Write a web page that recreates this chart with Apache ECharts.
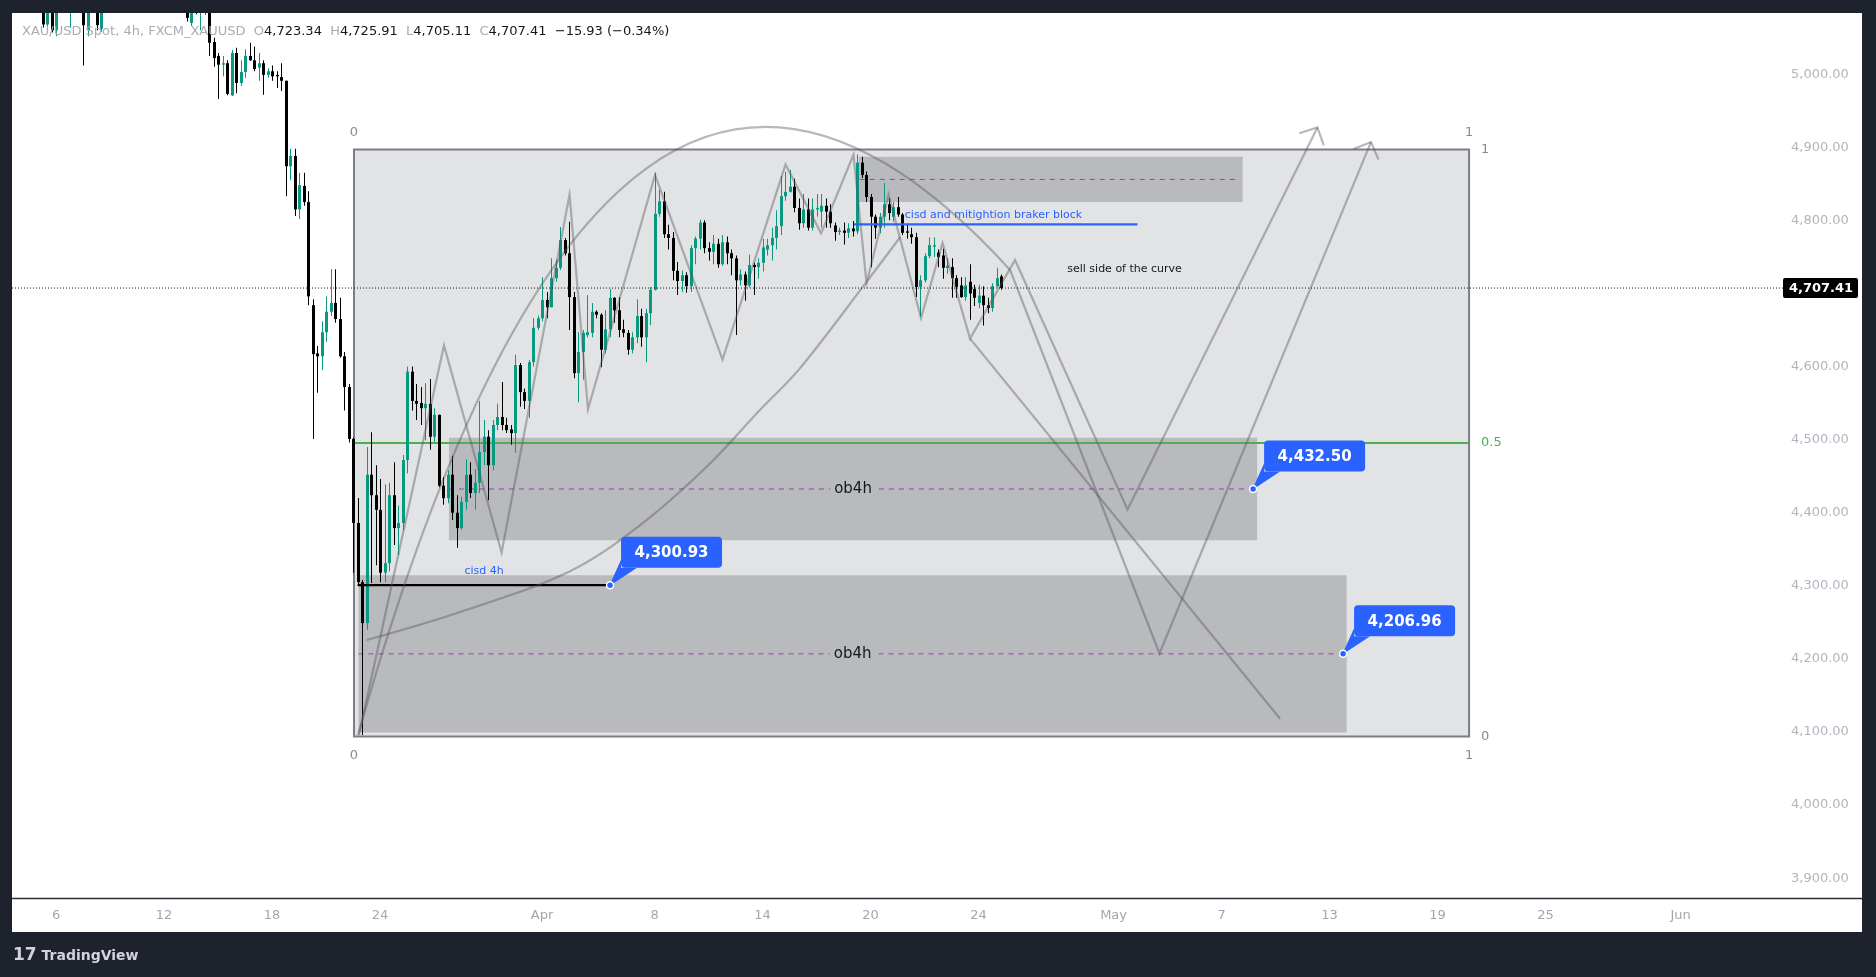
<!DOCTYPE html>
<html><head><meta charset="utf-8">
<script src="https://cdn.jsdelivr.net/npm/echarts@6/dist/echarts.min.js"></script>
<style>html,body{margin:0;padding:0;background:#1e222d;overflow:hidden}#c{width:1876px;height:977px}</style>
</head><body><div id="c"></div>
<script>
// ================= DATA =================
// 4h candles of XAU/USD, one row per bar: [open, close, low, high]
const ohlc = [
[5135,5120,5110,5148],[5120,5142,5112,5150],[5142,5128,5118,5152],[5128,5110,5098,5135],[5110,5125,5100,5132],
[5125,5098,5090,5130],[5095,5068,5064,5102],[5068,5088,5066,5096],[5088,5060,5057,5094],[5060,5095,5052,5102],
[5095,5110,5090,5118],[5110,5102,5092,5122],[5102,5115,5064,5120],[5115,5128,5105,5135],[5128,5112,5100,5138],
[5112,5067,5012,5118],[5060,5098,5052,5105],[5098,5115,5092,5122],[5115,5067,5060,5120],[5062,5105,5058,5112],
[5105,5130,5098,5138],[5130,5150,5122,5160],[5150,5142,5132,5168],[5142,5165,5136,5172],[5165,5180,5155,5190],
[5180,5170,5158,5195],[5170,5188,5162,5198],[5188,5176,5165,5196],[5176,5160,5148,5185],[5160,5172,5150,5180],
[5172,5150,5140,5178],[5150,5138,5126,5158],[5138,5150,5130,5160],[5150,5132,5118,5156],[5132,5140,5120,5148],
[5140,5124,5110,5146],[5124,5118,5104,5130],[5118,5105,5095,5125],[5105,5077,5072,5115],[5070,5095,5066,5105],
[5095,5088,5082,5108],[5088,5100,5060,5108],[5092,5106,5081,5115],[5104,5043,5025,5108],[5044,5022,5010,5050],
[5025,5013,4966,5029],[5013,5015,4997,5025],[5015,4973,4971,5019],[4971,5029,4970,5033],[5029,4988,4974,5036],
[4988,5003,4984,5019],[5003,5025,4995,5034],[5025,5019,5018,5043],[5019,5007,5004,5038],[5009,5015,4991,5029],
[5015,4999,4972,5019],[4999,5004,4995,5008],[5004,4997,4991,5012],[4999,4997,4981,5004],[4996,4991,4977,5015],
[4991,4874,4833,4991],[4874,4888,4855,4898],[4888,4815,4806,4898],[4815,4848,4802,4865],[4847,4825,4820,4865],
[4825,4696,4684,4840],[4684,4617,4501,4692],[4618,4614,4564,4628],[4614,4647,4595,4662],[4647,4675,4634,4696],
[4675,4687,4669,4733],[4687,4665,4660,4733],[4665,4614,4612,4694],[4614,4572,4540,4620],[4572,4501,4496,4576],
[4501,4386,4318,4503],[4386,4305,4302,4420],[4305,4249,4096,4308],[4249,4452,4240,4490],[4452,4424,4304,4510],
[4424,4404,4328,4465],[4404,4318,4305,4446],[4318,4331,4305,4439],[4331,4424,4320,4441],[4424,4379,4356,4469],
[4379,4386,4342,4410],[4386,4472,4376,4479],[4472,4593,4454,4600],[4593,4553,4540,4600],[4553,4549,4527,4576],
[4550,4543,4520,4572],[4543,4549,4499,4577],[4549,4504,4486,4583],[4504,4534,4497,4543],[4534,4437,4435,4534],
[4437,4420,4411,4449],[4420,4452,4413,4458],[4452,4400,4390,4478],[4400,4379,4352,4424],[4379,4415,4377,4422],
[4415,4452,4404,4473],[4452,4427,4420,4469],[4427,4441,4404,4460],[4441,4483,4427,4553],[4483,4504,4465,4527],
[4504,4465,4417,4513],[4465,4520,4458,4527],[4520,4531,4513,4549],[4531,4520,4513,4579],[4520,4513,4509,4530],
[4514,4509,4493,4520],[4509,4602,4482,4616],[4602,4565,4545,4605],[4565,4553,4542,4570],[4553,4606,4530,4609],
[4606,4653,4600,4666],[4653,4666,4650,4670],[4666,4691,4662,4722],[4691,4681,4666,4702],[4681,4721,4681,4748],
[4721,4735,4716,4746],[4735,4773,4732,4791],[4773,4755,4752,4776],[4755,4695,4650,4798],[4695,4591,4584,4702],
[4591,4620,4551,4647],[4620,4646,4582,4650],[4643,4647,4640,4698],[4646,4675,4640,4687],[4675,4671,4666,4677],
[4671,4623,4599,4673],[4623,4651,4618,4677],[4651,4694,4640,4706],[4694,4677,4660,4695],[4677,4650,4640,4695],
[4651,4646,4640,4664],[4646,4623,4616,4650],[4623,4640,4618,4647],[4640,4669,4632,4692],[4669,4640,4627,4679],
[4640,4673,4606,4679],[4673,4705,4657,4709],[4705,4809,4704,4865],[4809,4826,4805,4842],[4826,4781,4776,4839],
[4781,4776,4760,4794],[4776,4731,4718,4784],[4731,4717,4698,4743],[4717,4725,4702,4731],[4725,4710,4701,4729],
[4710,4762,4702,4766],[4762,4775,4740,4778],[4775,4797,4760,4801],[4797,4762,4755,4800],[4762,4757,4745,4770],
[4757,4768,4740,4780],[4768,4740,4735,4775],[4740,4770,4738,4780],[4770,4755,4740,4778],[4755,4748,4725,4760],
[4748,4718,4643,4752],[4718,4726,4711,4733],[4726,4711,4690,4730],[4711,4739,4708,4753],[4739,4736,4698,4742],
[4736,4742,4720,4748],[4742,4763,4730,4775],[4760,4766,4752,4775],[4766,4776,4745,4790],[4776,4792,4760,4814],
[4792,4833,4780,4861],[4833,4839,4827,4866],[4839,4846,4838,4869],[4846,4817,4811,4857],[4817,4796,4787,4830],
[4796,4815,4790,4836],[4815,4790,4786,4830],[4790,4815,4786,4830],[4815,4817,4805,4836],[4812,4820,4790,4836],
[4820,4812,4790,4830],[4812,4796,4790,4822],[4793,4784,4772,4797],[4784,4786,4780,4790],[4786,4783,4767,4797],
[4783,4789,4776,4796],[4789,4785,4778,4799],[4785,4879,4781,4890],[4879,4862,4858,4887],[4862,4832,4825,4867],
[4832,4805,4736,4836],[4805,4790,4775,4808],[4790,4805,4782,4810],[4805,4822,4790,4851],[4822,4810,4800,4830],
[4805,4818,4798,4825],[4818,4808,4805,4832],[4808,4783,4780,4810],[4785,4783,4775,4795],[4781,4777,4768,4790],
[4777,4709,4695,4783],[4709,4718,4668,4725],[4718,4751,4715,4755],[4751,4766,4748,4777],[4764,4766,4750,4777],
[4756,4750,4736,4760],[4752,4735,4720,4761],[4735,4738,4727,4748],[4736,4721,4694,4748],[4721,4709,4694,4725],
[4711,4695,4694,4722],[4695,4711,4690,4722],[4716,4700,4664,4740],[4706,4694,4683,4712],[4687,4697,4680,4712],
[4697,4684,4656,4710],[4684,4680,4673,4694],[4680,4710,4675,4714],[4710,4721,4708,4735],[4723.34,4707.41,4705.11,4725.91]
];
// time axis: bar index of each date label
const timeTickBars = [9,33,57,81,117,142,166,190,214,244,268,292,316,340,370];
const timeTickLabels = ['6','12','18','24','Apr','8','14','20','24','May','7','13','19','25','Jun'];
const priceTicks = [3900,4000,4100,4200,4300,4400,4500,4600,4800,4900,5000];
const lastPrice = 4707.41;
const legendSymbol = 'XAU/USD Spot, 4h, FXCM_XAUUSD';
const legendValues = ['4,723.34','4,725.91','4,705.11','4,707.41','\u221215.93 (\u22120.34%)'];

// drawings (bar index, price)
const gannBox = [[75.2, 323.0, 4897, 4094]];            // x1, x2, top, bottom
const gannLevels = [1, 0.5, 0];
const zones = [[96.3,275.9,4502.5,4362.5],[76.2,295.8,4314.5,4099.4],[187.4,272.7,4887,4825.2]];
const zoneMidlines = [[96.3,275.0,4432.5],[76.2,295.0,4206.96],[187.6,271.4,4856]];
const zoneLabels = [[186.1,4432.5,'ob4h'],[186.0,4206.96,'ob4h']];
const priceNotes = [[132.1,4300.93],[275.0,4432.50],[295.0,4206.96]];
const levelLines = [[76.0,132.1,4300.93],[186.3,249.3,4794.4]];
const textNotes = [[104.1,4320.3,'cisd 4h'],[197.6,4807.3,'cisd and mitightion braker block'],[233.7,4733.5,'sell side of the curve']];
const zigzagPath = [[76.3,4096],[95.2,4628.9],[108.0,4345.7],[123.1,4835.1],[127.2,4541.5],[142.1,4862.2],[157.1,4609.4],
  [171.1,4876.6],[179.0,4782.2],[186.2,4889.8],[189.1,4714.1],[194.0,4835.1],[201.2,4666.4],[206.0,4768.9],[212.1,4638.2],
  [222.1,4745.8],[247.1,4404.4],[289.3,4927.2]];
// curve drawing (quadratic): start, control, end
const curveAnchors = [[76.1,4095.9],[132.5,5331.2],[221.0,4732.1]];
const lowerCurve = [[78.0,4225.8],[98.8,4264.2],[123.1,4319.7],[138.8,4383.2],[153.7,4463.6],[165.4,4540.5],[174.1,4596.1],
  [188.9,4714.2],[196.6,4777.2]];
const rayDown = [[212.1,4638.2],[281.0,4118.2]];
const curveExitPath = [[221.0,4732.1],[254.2,4207.4],[301.2,4907.1]];

// ================= STYLE =================
const FONT = '"DejaVu Sans", Verdana, sans-serif';
const UP = '#089981', DOWN = '#000000';
const paths = [
  {pts: lowerCurve, smooth: 0.35, arrow: false},
  {pts: zigzagPath, smooth: 0, arrow: true},
  {pts: rayDown, smooth: 0, arrow: false},
  {pts: curveExitPath, smooth: 0, arrow: true}
];
const DRAW_STROKE = 'rgba(85,86,92,0.42)';
const levelLineColors = ['#000000', '#2962ff'];
const textNoteStyles = [
  {fill:'#2962ff', font:'11px ' + FONT, align:'center'},
  {fill:'#2962ff', font:'11px ' + FONT, align:'left'},
  {fill:'#131722', font:'11px ' + FONT, align:'left'}
];
const fmt = v => v.toLocaleString('en-US', {minimumFractionDigits:2, maximumFractionDigits:2});

const X_MIN = -0.8, X_MAX = 392.76, Y_MIN = 3872.9, Y_MAX = 5083.7;

const chart = echarts.init(document.getElementById('c'), null, {renderer:'canvas', width:1876, height:977});

function renderCandle(params, api) {
  const i = api.value(0), o = api.value(1), c = api.value(2), l = api.value(3), h = api.value(4);
  const pO = api.coord([i, o]), pC = api.coord([i, c]), pL = api.coord([i, l]), pH = api.coord([i, h]);
  const x = Math.round(pO[0]);
  const col = c >= o ? UP : DOWN;
  const top = Math.min(pO[1], pC[1]);
  const hh = Math.max(1, Math.abs(pO[1] - pC[1]));
  return {type:'group', children:[
    {type:'rect', shape:{x:x, y:pH[1], width:1, height:Math.max(1, pL[1]-pH[1])}, style:{fill:col}},
    {type:'rect', shape:{x:x-1, y:top, width:3, height:hh}, style:{fill:col}}
  ]};
}

function renderGann(params, api) {
  const x1 = api.value(0), x2 = api.value(1), top = api.value(2), bot = api.value(3);
  const a = api.coord([x1, top]), b = api.coord([x2, bot]);
  const labelFont = '13px ' + FONT, gray = '#878a93';
  const ch = [
    {type:'rect', shape:{x:a[0], y:a[1], width:b[0]-a[0], height:b[1]-a[1]}, style:{fill:'#e2e3e5'}}
  ];
  gannLevels.forEach(r => {
    const y = api.coord([x1, bot + r*(top-bot)])[1];
    const green = r === 0.5;
    ch.push({type:'text', x:b[0]+12, y:y, style:{text:String(r), fill: green ? '#4caf50' : gray, font:labelFont, align:'left', verticalAlign:'middle'}});
  });
  ch.push({type:'text', x:a[0], y:a[1]-17, style:{text:'0', fill:gray, font:labelFont, align:'center', verticalAlign:'middle'}});
  ch.push({type:'text', x:b[0], y:a[1]-17, style:{text:'1', fill:gray, font:labelFont, align:'center', verticalAlign:'middle'}});
  ch.push({type:'text', x:a[0], y:b[1]+19, style:{text:'0', fill:gray, font:labelFont, align:'center', verticalAlign:'middle'}});
  ch.push({type:'text', x:b[0], y:b[1]+19, style:{text:'1', fill:gray, font:labelFont, align:'center', verticalAlign:'middle'}});
  return {type:'group', children:ch};
}
function renderGannBorder(params, api) {
  const a = api.coord([api.value(0), api.value(2)]), b = api.coord([api.value(1), api.value(3)]);
  return {type:'rect', shape:{x:a[0], y:a[1], width:b[0]-a[0], height:b[1]-a[1]}, style:{fill:null, stroke:'#7b7e87', lineWidth:2}};
}
function renderGannMid(params, api) {
  const x1 = api.value(0), x2 = api.value(1), top = api.value(2), bot = api.value(3);
  const y = api.coord([x1, (top+bot)/2])[1];
  const a = api.coord([x1, top]), b = api.coord([x2, bot]);
  return {type:'line', shape:{x1:a[0], y1:y, x2:b[0], y2:y}, style:{stroke:'#4caf50', lineWidth:2}};
}
function renderZone(params, api) {
  const a = api.coord([api.value(0), api.value(2)]), b = api.coord([api.value(1), api.value(3)]);
  return {type:'rect', shape:{x:a[0], y:a[1], width:b[0]-a[0], height:b[1]-a[1]}, style:{fill:'#b9babd'}};
}
function renderZoneMid(params, api) {
  const a = api.coord([api.value(0), api.value(2)]), b = api.coord([api.value(1), api.value(2)]);
  return {type:'line', shape:{x1:a[0], y1:a[1], x2:b[0], y2:b[1]}, style:{stroke:'#9c27b0', lineWidth:1, lineDash:[5,5], opacity:0.85}};
}
function renderZoneLabel(params, api) {
  const p = api.coord([api.value(0), api.value(1)]);
  return {type:'text', x:p[0], y:p[1], style:{text:zoneLabels[params.dataIndex][2], fill:'#131722', font:'15px ' + FONT,
    align:'center', verticalAlign:'middle', backgroundColor:'#b9babd', padding:[1,4]}};
}
function renderLevelLine(params, api) {
  const a = api.coord([api.value(0), api.value(2)]), b = api.coord([api.value(1), api.value(2)]);
  return {type:'line', shape:{x1:a[0], y1:a[1], x2:b[0], y2:b[1]}, style:{stroke:levelLineColors[params.dataIndex], lineWidth:2.2}};
}
function arrowHead(t, s) {
  const dx = s[0]-t[0], dy = s[1]-t[1], L = Math.hypot(dx, dy);
  const ux = dx/L, uy = dy/L, len = 19, ang = 0.8;
  const r = (x, y, g) => [x*Math.cos(g) - y*Math.sin(g), x*Math.sin(g) + y*Math.cos(g)];
  const b1 = r(ux, uy, ang), b2 = r(ux, uy, -ang);
  return {type:'polyline', shape:{points:[[t[0]+b1[0]*len, t[1]+b1[1]*len], t, [t[0]+b2[0]*len, t[1]+b2[1]*len]]},
    style:{stroke:DRAW_STROKE, lineWidth:2.2, fill:null}};
}
function renderPath(params, api) {
  const p = paths[params.dataIndex];
  const pts = p.pts.map(q => api.coord(q));
  const ch = [{type:'polyline', shape:{points:pts, smooth:p.smooth}, style:{stroke:DRAW_STROKE, lineWidth:2.2, fill:null}}];
  if (p.arrow) ch.push(arrowHead(pts[pts.length-1], pts[pts.length-2]));
  return {type:'group', children:ch};
}
function renderCurve(params, api) {
  const s = api.coord(curveAnchors[0]), c = api.coord(curveAnchors[1]), e = api.coord(curveAnchors[2]);
  return {type:'bezierCurve', shape:{x1:s[0], y1:s[1], cpx1:c[0], cpy1:c[1], x2:e[0], y2:e[1]},
    style:{stroke:DRAW_STROKE, lineWidth:2.2, fill:null}};
}
function renderTextNote(params, api) {
  const p = api.coord([api.value(0), api.value(1)]);
  const st = textNoteStyles[params.dataIndex];
  return {type:'text', x:p[0], y:p[1], style:{text:textNotes[params.dataIndex][2], fill:st.fill, font:st.font, align:st.align, verticalAlign:'middle'}};
}
function renderPriceNote(params, api) {
  const v = api.value(1);
  const a = api.coord([api.value(0), v]);
  const w = 101, h = 31, bx = a[0] + 11, by = a[1] - 17.5 - h;
  return {type:'group', children:[
    {type:'polygon', shape:{points:[[a[0]-1, a[1]+1], [bx, by+h-8], [bx, by+h], [bx+16, by+h]]}, style:{fill:'#2962ff'}},
    {type:'rect', shape:{x:bx, y:by, width:w, height:h, r:4}, style:{fill:'#2962ff'}},
    {type:'text', x:bx+w/2, y:by+h/2+1, style:{text:fmt(v), fill:'#ffffff', font:'bold 15px ' + FONT, align:'center', verticalAlign:'middle'}},
    {type:'circle', shape:{cx:a[0], cy:a[1], r:3.5}, style:{fill:'#2962ff', stroke:'#ffffff', lineWidth:1.5}}
  ]};
}
function renderLast(params, api) {
  const cs = params.coordSys;
  const y = api.coord([X_MIN, api.value(1)])[1];
  const right = cs.x + cs.width;
  return {type:'group', children:[
    {type:'line', shape:{x1:cs.x, y1:y, x2:right, y2:y}, style:{stroke:'#131722', lineWidth:1, lineDash:[1,2]}},
    {type:'rect', shape:{x:right, y:y-10, width:75, height:20, r:2}, style:{fill:'#000000'}},
    {type:'text', x:right+38, y:y+1, style:{text:fmt(api.value(1)), fill:'#ffffff', font:'bold 13px ' + FONT, align:'center', verticalAlign:'middle'}}
  ]};
}

const idx = arr => arr.map((_, i) => [i]);

const legendRich = {
  g:{fill:'#a9acb5', font:'13px ' + FONT},
  v:{fill:'#131722', font:'13px ' + FONT}
};
const legendText = '{g|' + legendSymbol + '  O}{v|' + legendValues[0] + '}{g|  H}{v|' + legendValues[1] + '}{g|  L}{v|' +
  legendValues[2] + '}{g|  C}{v|' + legendValues[3] + '  ' + legendValues[4] + '}';

chart.setOption({
  animation:false,
  backgroundColor:'#1e222d',
  grid:{left:12, top:13, width:1771, height:885},
  xAxis:{type:'value', min:X_MIN, max:X_MAX, splitLine:{show:false}, axisLine:{show:false}, axisTick:{show:false},
    axisLabel:{customValues:timeTickBars, formatter:v => { const k = timeTickBars.indexOf(Math.round(v)); return k >= 0 ? timeTickLabels[k] : ''; },
      color:'#a3a6af', fontSize:13, fontFamily:FONT, margin:11}},
  yAxis:{type:'value', position:'right', min:Y_MIN, max:Y_MAX, splitLine:{show:false}, axisLine:{show:false}, axisTick:{show:false},
    axisLabel:{customValues:priceTicks, formatter:v => fmt(v), color:'#b2b5be', fontSize:13, fontFamily:FONT, margin:8}},
  graphic:[
    {type:'rect', shape:{x:12, y:13, width:1850, height:919}, style:{fill:'#ffffff'}, z:-100, silent:true},
    {type:'line', shape:{x1:12, y1:898.5, x2:1862, y2:898.5}, style:{stroke:'#2a2e39', lineWidth:1.5}, z:50, silent:true},
    {type:'text', x:22, y:32, style:{text:legendText, rich:legendRich, verticalAlign:'middle', align:'left'}, z:100, silent:true},
    {type:'text', x:13, y:956, style:{text:'{l|17}{t| TradingView}', verticalAlign:'middle', align:'left',
      rich:{l:{fill:'#d1d4dc', font:'bold 17px ' + FONT}, t:{fill:'#d1d4dc', font:'600 14px ' + FONT}}}, z:100, silent:true}
  ],
  series:[
    {type:'custom', name:'gann', renderItem:renderGann, data:gannBox, encode:{x:[0,1], y:[2,3]}, z:1, silent:true, clip:false},
    {type:'custom', name:'zones', renderItem:renderZone, data:zones, encode:{x:[0,1], y:[2,3]}, z:2, silent:true},
    {type:'custom', name:'gannMid', renderItem:renderGannMid, data:gannBox, encode:{x:[0,1], y:[2,3]}, z:3, silent:true},
    {type:'custom', name:'gannBorder', renderItem:renderGannBorder, data:gannBox, encode:{x:[0,1], y:[2,3]}, z:3, silent:true},
    {type:'custom', name:'zoneMid', renderItem:renderZoneMid, data:zoneMidlines, encode:{x:[0,1], y:2}, z:3, silent:true},
    {type:'custom', name:'zoneLabel', renderItem:renderZoneLabel, data:zoneLabels.map(d => [d[0], d[1]]), encode:{x:0, y:1}, z:4, silent:true},
    {type:'custom', name:'candles', renderItem:renderCandle, data:ohlc.map((d, i) => [i, d[0], d[1], d[2], d[3]]), encode:{x:0, y:[1,2,3,4]}, z:5, clip:true, silent:true},
    {type:'custom', name:'levels', renderItem:renderLevelLine, data:levelLines, encode:{x:[0,1], y:2}, z:6, silent:true},
    {type:'custom', name:'paths', renderItem:renderPath, data:idx(paths), z:7, silent:true, clip:false},
    {type:'custom', name:'curve', data:[curveAnchors[0]], encode:{x:0, y:1}, z:7, silent:true, clip:false, renderItem:renderCurve},
    {type:'custom', name:'notes', renderItem:renderTextNote, data:textNotes.map(d => [d[0], d[1]]), encode:{x:0, y:1}, z:8, silent:true},
    {type:'custom', name:'priceNotes', renderItem:renderPriceNote, data:priceNotes, encode:{x:0, y:1}, z:9, silent:true, clip:false},
    {type:'custom', name:'last', renderItem:renderLast, data:[[X_MIN, lastPrice]], encode:{x:0, y:1}, z:10, silent:true, clip:false}
  ]
});
</script></body></html>
